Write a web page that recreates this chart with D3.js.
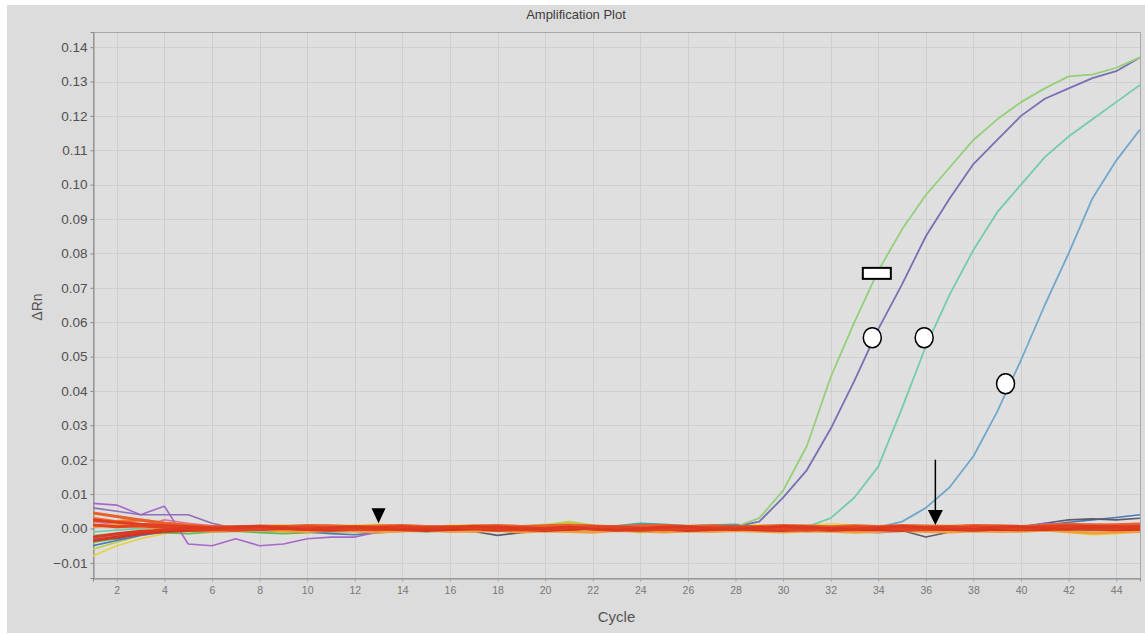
<!DOCTYPE html>
<html lang="en">
<head>
<meta charset="UTF-8">
<title>Amplification Plot</title>
<script src="https://d3js.org/d3.v7.min.js"></script>
<style>
body{margin:0;background:#fff;}
svg{display:block;font-family:"Liberation Sans", Arial, sans-serif;}
</style>
</head>
<body>
<svg id="chart" width="1145" height="634"></svg>
<script>
// cycles 1..45
var cycles = d3.range(1, 46);
var xTicks = [2,4,6,8,10,12,14,16,18,20,22,24,26,28,30,32,34,36,38,40,42,44];
var yTicks = [-0.01,0.00,0.01,0.02,0.03,0.04,0.05,0.06,0.07,0.08,0.09,0.10,0.11,0.12,0.13,0.14];

// amplified wells (delta Rn)
var ampGreen = [-0.002,-0.0015,-0.001,-0.0008,-0.0005,-0.0003,0,0.0002,0,-0.0002,0.0001,0.0003,0,-0.0002,0.0001,0.0003,0.0002,0,-0.0001,0.0002,0.0004,0.0002,0,0.0005,0.0008,0.0006,0.0004,
  0.0005,0.003,0.011,0.024,0.044,0.060,0.075,0.087,0.097,0.105,0.113,0.119,0.124,0.128,0.1315,0.132,0.134,0.137];
var ampPurple = [0.001,0.0005,0.0008,0.0003,0,-0.0002,-0.0004,-0.0002,0,0.0002,-0.0001,-0.0003,0,0.0002,0.0004,0.0001,-0.0002,0,0.0003,0.0001,-0.0001,0.0002,0.0004,0.0003,0.0001,0.0003,0.0005,
  0.0006,0.002,0.009,0.017,0.029,0.043,0.058,0.071,0.085,0.096,0.106,0.113,0.120,0.125,0.128,0.131,0.133,0.137];
var ampTeal = [-0.001,-0.0005,0,0.0003,0.0001,-0.0002,0,0.0002,-0.0001,-0.0003,0,0.0002,0.0001,-0.0002,0,0.0003,0.0001,-0.0002,0,0.0002,0.0004,0.0001,-0.0001,0.0002,0.0003,0.0001,0,0.0002,-0.0001,0.0001,
  0.0005,0.003,0.009,0.018,0.035,0.053,0.068,0.081,0.092,0.100,0.108,0.114,0.119,0.124,0.129];
var ampBlue = [-0.003,-0.002,-0.001,-0.0005,0,0.0002,0,-0.0002,-0.0001,0.0001,0.0003,0,-0.0002,0.0001,0.0002,0,-0.0003,-0.0001,0.0002,0.0001,-0.0002,0,0.0003,0.0001,-0.0001,0.0002,0,-0.0002,0.0001,0.0003,0,-0.0001,0.0002,
  0.0003,0.002,0.006,0.012,0.021,0.034,0.049,0.065,0.080,0.096,0.107,0.116];

// non-amplified wells, read in units of 0.001 delta Rn
var baseRedA = [2.5,1.8,1.2,0.8,0.5,0.2,0.0,0.3,0.4,0.1,-0.2,0.0,0.3,0.5,0.2,-0.2,0.0,0.4,0.2,0.0,-0.3,0.2,0.4,0.1,0.0,-0.3,-0.1,0.2,0.4,0.0,-0.3,0.1,0.3,0.0,-0.2,0.2,0.4,0.1,-0.1,0.2,0.5,0.7,0.6,0.4,0.6];
var baseRedB = [-3.5,-2.5,-1.5,-0.8,-0.6,-0.4,-0.2,-0.3,0.0,-0.3,-0.5,-0.2,0.0,-0.4,-0.6,-0.3,-0.1,-0.5,-0.3,-0.6,-0.2,0.0,-0.4,-0.5,-0.2,-0.6,-0.3,-0.1,-0.4,-0.6,-0.2,-0.5,-0.3,-0.4,-0.6,-0.2,-0.3,-0.5,-0.2,-0.4,-0.3,-0.1,-0.2,-0.4,-0.2];
var baseRedC = [4.5,3.5,2.5,1.5,0.8,0.6,0.5,0.7,0.6,0.9,0.8,0.5,0.7,0.9,0.6,0.4,0.7,0.9,0.6,0.8,1.0,0.7,0.5,0.8,0.9,0.6,0.8,0.5,0.6,0.9,0.7,0.5,0.8,0.6,0.9,0.7,0.6,0.9,0.8,0.6,0.9,1.2,1.0,1.1,1.3];
var baseRedD = [1.0,0.5,0.8,0.3,0.0,-0.3,-0.5,-0.2,0.2,0.4,0.1,-0.2,-0.4,0.0,0.3,0.5,0.2,-0.1,-0.4,-0.2,0.2,0.5,0.3,-0.2,-0.4,-0.1,0.3,0.5,0.1,-0.2,-0.5,-0.1,0.4,0.3,-0.2,-0.4,0.0,0.5,0.3,-0.2,0.1,0.3,-0.2,0.0,0.3];
var baseRedE = [-2.5,-1.5,-0.8,-0.5,0.2,0.0,0.4,0.6,0.1,-0.3,0.2,0.5,0.1,-0.3,-0.1,0.2,0.6,0.3,-0.2,0.0,0.4,-0.2,-0.5,-0.1,0.4,0.5,0.0,-0.3,0.2,0.6,0.4,0.0,-0.3,0.3,0.6,0.2,-0.2,-0.3,0.4,0.5,0.0,-0.2,0.3,0.5,0.1];
var baseOrangeA = [0.5,1.0,0.5,0.2,-0.5,-0.8,-0.6,-0.3,-0.7,-0.9,-0.6,-0.8,-1.0,-0.7,-0.5,-0.9,-0.8,-0.6,-1.0,-0.7,-0.9,-1.1,-0.6,-0.8,-1.0,-0.7,-0.9,-0.6,-0.8,-1.0,-0.7,-0.8,-1.1,-0.9,-0.6,-0.9,-1.0,-0.7,-0.9,-0.8,-0.5,-0.9,-1.3,-1.1,-0.9];
var baseOrangeB = [3.0,2.0,2.5,1.5,1.0,0.3,-0.2,0.0,0.5,0.2,-0.3,-0.1,0.4,0.6,0.2,-0.2,0.1,0.5,0.4,0.0,-0.2,0.4,0.6,0.2,-0.1,0.3,0.5,0.1,-0.3,0.2,0.6,0.4,-0.1,0.3,0.5,0.1,-0.2,0.3,0.6,0.3,0.0,0.4,0.5,0.2,0.4];
var baseYellow = [-8,-5,-3,-1.5,-0.5,0.0,0.5,0.8,1.0,0.6,0.8,1.0,1.2,0.8,0.5,0.9,1.1,0.7,0.6,1.2,1.5,0.8,0.5,0.3,0.6,0.9,0.7,0.8,1.1,0.6,0.9,1.4,1.0,0.7,0.5,0.8,0.9,0.6,0.4,0.3,-0.5,-1.2,-1.8,-1.5,-0.8];
var baseLime = [-6,-4,-2,-1,-0.5,-0.3,0.2,-0.3,-0.6,-0.2,0.1,-0.4,0.2,0.0,-1.0,-0.6,-0.2,0.3,0.1,1.0,2.0,1.0,-0.2,-1.2,-0.5,0.2,-0.3,-0.1,0.3,0.0,-0.4,0.2,0.5,0.1,-0.3,0.1,0.3,-0.2,0.0,0.3,-0.3,-0.8,-0.5,-0.2,-0.4];
var baseGreen = [-4,-3,-1.5,-1.2,-1.5,-1.0,-0.8,-1.2,-1.5,-1.2,-1.0,-0.8,-0.5,-0.7,-0.9,-0.6,-0.4,-0.8,-0.5,-0.3,1.0,0.8,-0.4,-0.6,-0.3,-0.5,-0.2,-0.4,-0.6,-0.3,-0.5,-0.2,-0.4,-0.6,-0.3,-0.4,-0.2,-0.5,-0.3,-0.2,-0.5,-0.3,-0.6,-0.4,-0.3];
var basePurpleA = [7.3,6.8,4.0,6.5,-4.5,-5.0,-3.0,-5.0,-4.5,-3.0,-2.5,-2.5,-1.0,-0.5,0.0,0.2,-0.3,-0.6,-0.2,0.1,0.3,0.0,-0.4,0.2,0.5,0.6,0.3,0.1,-0.2,-0.4,-0.6,-0.8,-0.9,-1.2,-0.8,-0.5,-0.2,0.0,-0.3,0.2,1.5,1.0,0.8,0.6,0.5];
var basePurpleB = [6.0,5.0,4.0,4.0,4.0,1.5,0.0,-0.3,-0.5,-0.2,0.0,-0.3,-0.1,0.2,0.0,-0.2,0.1,0.3,0.0,-0.2,-0.4,-0.1,0.2,0.4,0.2,-0.1,0.1,0.3,0.0,-0.2,-0.1,0.2,0.1,-0.2,0.0,0.2,-0.1,0.0,0.3,0.1,0.4,0.9,1.2,1.0,1.1];
var baseGrey = [-2.5,-3.0,-1.5,-0.5,0.0,-0.2,-0.5,-0.3,-0.2,0.0,-0.2,-0.4,-0.1,0.2,0.0,-0.4,-0.9,-2.0,-1.2,-0.5,-0.2,0.1,0.3,0.5,0.2,-0.2,0.0,0.3,0.1,-0.1,-0.3,-0.2,0.1,0.0,-0.6,-2.5,-1.0,-0.3,0.0,0.5,1.5,2.5,2.8,2.5,3.0];
var baseBlue = [-5,-3.5,-2,-1,-0.5,-0.2,-0.4,-0.6,-0.8,-1.0,-1.5,-1.8,-1.2,-0.8,-0.4,-0.2,0.0,-0.3,-0.1,0.2,0.0,-0.2,0.3,1.0,0.8,0.5,0.6,0.8,0.4,0.0,-0.3,0.1,0.3,0.0,-0.2,0.1,0.3,0.0,0.2,0.4,0.9,1.8,2.5,3.2,4.0];
var baseTeal = [-3,-2,-1,-0.2,0.2,0.5,0.3,0.0,-0.2,0.1,0.3,0.0,-0.2,0.2,0.5,0.3,0.0,0.4,0.6,0.3,0.1,0.5,0.8,1.5,1.2,0.8,1.0,1.2,0.6,0.3,0.1,-0.2,0.2,0.0,-0.3,0.1,0.2,-0.1,0.0,0.2,0.3,0.1,-0.2,0.0,0.2];
var basePink = [2.0,1.0,0.5,2.5,1.5,0.8,0.4,0.2,0.0,0.2,0.4,0.1,-0.2,0.0,0.3,0.1,-0.3,0.0,0.2,-0.1,0.0,0.3,0.1,-0.2,0.0,0.2,0.4,0.1,-0.1,0.2,0.0,-0.3,-0.1,0.2,0.0,-0.2,0.1,0.3,0.0,-0.2,0.1,0.3,0.2,0.0,0.2];

// annotation symbols placed in data coordinates
var markTriangle = [{cycle: 13.0, value: 0.0015}];
var markArrow = [{cycle: 36.4, from: 0.0200, to: 0.0010}];
var markRect = [{cycle: 33.94, value: 0.0742}];
var markCircles = [{cycle: 33.75, value: 0.0555}, {cycle: 35.93, value: 0.0555}, {cycle: 39.35, value: 0.0421}];

var svg = d3.select("#chart"),
    W = +svg.attr("width"),
    H = +svg.attr("height"),
    pLeft = 93, pTop = 32, pRight = 1140, pBottom = 578;

var x = d3.scaleLinear().domain([1, 45]).range([pLeft, pRight]);
var y = d3.scaleLinear().domain([-0.0144, 0.1444]).range([pBottom, pTop]);

// grey panel
svg.append("rect").attr("x", 7).attr("y", 5).attr("width", W - 7).attr("height", 628).attr("fill", "#dcdcdc");
svg.append("rect").attr("x", pLeft).attr("y", pTop).attr("width", pRight - pLeft).attr("height", pBottom - pTop)
  .attr("fill", "#dfdfdf");

// grid
var grid = svg.append("g").attr("stroke", "#cfcfcf").attr("stroke-width", 1);
grid.selectAll(".gx").data(xTicks).enter().append("line")
  .attr("x1", function(d){ return Math.round(x(d)) + 0.5; }).attr("x2", function(d){ return Math.round(x(d)) + 0.5; })
  .attr("y1", pTop).attr("y2", pBottom);
grid.selectAll(".gy").data(yTicks).enter().append("line")
  .attr("y1", function(d){ return Math.round(y(d)) + 0.5; }).attr("y2", function(d){ return Math.round(y(d)) + 0.5; })
  .attr("x1", pLeft).attr("x2", pRight);

// frame
svg.append("rect").attr("x", pLeft + 0.5).attr("y", pTop + 0.5).attr("width", pRight - pLeft).attr("height", pBottom - pTop)
  .attr("fill", "none").attr("stroke", "#a8a8a8");

// axes
var yAxis = d3.axisLeft(y).tickValues(yTicks).tickFormat(d3.format(".2f")).tickSize(3).tickPadding(3);
var gy = svg.append("g").attr("transform", "translate(" + (pLeft + 0.5) + ",0)").call(yAxis);
gy.select(".domain").attr("stroke", "#8a8a8a");
gy.selectAll(".tick line").attr("stroke", "#8a8a8a");
gy.selectAll("text").attr("fill", "#505050").style("font-size", "13.5px");

var xAxis = d3.axisBottom(x).tickValues(xTicks).tickSize(3).tickPadding(5);
var gx = svg.append("g").attr("transform", "translate(0," + (pBottom + 0.5) + ")").call(xAxis);
gx.select(".domain").attr("stroke", "#8a8a8a");
gx.selectAll(".tick line").attr("stroke", "#a0a0a0");
gx.selectAll("text").attr("fill", "#777").style("font-size", "10.5px");

// titles
svg.append("text").attr("x", 576).attr("y", 19).attr("text-anchor", "middle")
  .attr("fill", "#3c3c3c").style("font-size", "13px").text("Amplification Plot");
svg.append("text").attr("x", (pLeft + pRight) / 2).attr("y", 622).attr("text-anchor", "middle")
  .attr("fill", "#555").style("font-size", "15px").text("Cycle");
svg.append("text").attr("transform", "translate(42,307) rotate(-90)").attr("text-anchor", "middle")
  .attr("fill", "#555").style("font-size", "14px").text("\u0394Rn");

// curves
svg.append("clipPath").attr("id", "plotclip").append("rect")
  .attr("x", pLeft).attr("y", pTop).attr("width", pRight - pLeft).attr("height", pBottom - pTop);
var plot = svg.append("g").attr("clip-path", "url(#plotclip)");

var line = d3.line()
  .x(function(d, i){ return x(cycles[i]); })
  .y(function(d){ return y(d); });

function milli(arr){ return arr.map(function(v){ return v / 1000; }); }

var colourWells = [
  {values: baseYellow, color: "#e8d048"},
  {values: baseLime, color: "#b8d048"},
  {values: baseGreen, color: "#5cb848"},
  {values: baseTeal, color: "#4aa8a0"},
  {values: baseBlue, color: "#4a78b8"},
  {values: baseGrey, color: "#5c5c6c"},
  {values: basePink, color: "#e07898"},
  {values: basePurpleA, color: "#a868c8"},
  {values: basePurpleB, color: "#9070b8"}
];
var redWells = [
  {values: baseOrangeA, color: "#f0a038"},
  {values: baseOrangeB, color: "#ec7a30"},
  {values: baseRedC, color: "#e8602c"},
  {values: baseRedA, color: "#e03c22"},
  {values: baseRedB, color: "#d83220"},
  {values: baseRedD, color: "#e04424"},
  {values: baseRedE, color: "#dc3a20"}
];
var ampWells = [
  {values: ampBlue, color: "#70a8cc"},
  {values: ampTeal, color: "#74cca8"},
  {values: ampPurple, color: "#7a6eb4"},
  {values: ampGreen, color: "#94d078"}
];

plot.selectAll(".cw").data(colourWells).enter().append("path")
  .attr("d", function(d){ return line(milli(d.values)); })
  .attr("fill", "none").attr("stroke", function(d){ return d.color; })
  .attr("stroke-width", 1.6).attr("stroke-linejoin", "round");

plot.selectAll(".aw").data(ampWells).enter().append("path")
  .attr("d", function(d){ return line(d.values); })
  .attr("fill", "none").attr("stroke", function(d){ return d.color; })
  .attr("stroke-width", 1.8).attr("stroke-linejoin", "round");

plot.selectAll(".rw").data(redWells).enter().append("path")
  .attr("d", function(d){ return line(milli(d.values)); })
  .attr("fill", "none").attr("stroke", function(d){ return d.color; })
  .attr("stroke-width", 3).attr("stroke-linejoin", "round");

// annotation symbols
svg.selectAll(".tri").data(markTriangle).enter().append("path")
  .attr("d", function(d){
    var cx = x(d.cycle), cy = y(d.value);
    return "M" + (cx - 7) + "," + (cy - 15) + "L" + (cx + 7) + "," + (cy - 15) + "L" + cx + "," + cy + "Z";
  }).attr("fill", "#000");

svg.selectAll(".arr").data(markArrow).enter().append("g").each(function(d){
  var g = d3.select(this), cx = x(d.cycle), y0 = y(d.from), y1 = y(d.to);
  g.append("line").attr("x1", cx).attr("x2", cx).attr("y1", y0).attr("y2", y1 - 12)
    .attr("stroke", "#000").attr("stroke-width", 1.5);
  g.append("path").attr("d", "M" + (cx - 7.5) + "," + (y1 - 15) + "L" + (cx + 7.5) + "," + (y1 - 15) + "L" + cx + "," + y1 + "Z")
    .attr("fill", "#000");
});

svg.selectAll(".box").data(markRect).enter().append("rect")
  .attr("x", function(d){ return x(d.cycle) - 14; }).attr("y", function(d){ return y(d.value) - 5.5; })
  .attr("width", 28).attr("height", 11)
  .attr("fill", "#fff").attr("stroke", "#000").attr("stroke-width", 2);

svg.selectAll(".circ").data(markCircles).enter().append("ellipse")
  .attr("cx", function(d){ return x(d.cycle); }).attr("cy", function(d){ return y(d.value); })
  .attr("rx", 9).attr("ry", 10)
  .attr("fill", "#fff").attr("stroke", "#000").attr("stroke-width", 1.5);
</script>
</body>
</html>
